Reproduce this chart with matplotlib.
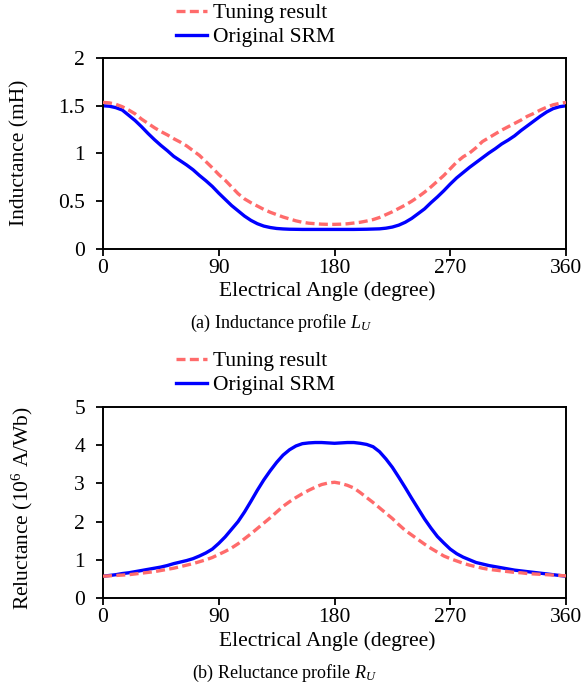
import matplotlib
matplotlib.use("Agg")
import matplotlib.pyplot as plt

plt.rcParams['font.family'] = ['Liberation Serif', 'DejaVu Serif']
plt.rcParams['mathtext.fontset'] = 'custom'
plt.rcParams['mathtext.rm'] = 'Liberation Serif'
plt.rcParams['mathtext.it'] = 'Liberation Serif:italic'

angle = list(range(0, 361, 5))

L_tuning = [1.535, 1.53, 1.515, 1.49, 1.455, 1.415, 1.36, 1.315, 1.27, 1.23,
            1.195, 1.155, 1.12, 1.08, 1.03, 0.98, 0.915, 0.85, 0.78, 0.72,
            0.65, 0.58, 0.525, 0.485, 0.45, 0.415, 0.385, 0.36, 0.335, 0.315,
            0.295, 0.28, 0.27, 0.265, 0.26, 0.258, 0.258,
            0.26, 0.264, 0.272, 0.28, 0.293, 0.308, 0.33, 0.36, 0.39, 0.425,
            0.46, 0.50, 0.545, 0.595, 0.65, 0.71, 0.77, 0.84, 0.91, 0.965,
            1.005, 1.06, 1.125, 1.165, 1.205, 1.245, 1.28, 1.315, 1.35, 1.39,
            1.42, 1.455, 1.485, 1.51, 1.525, 1.535]
L_original = [1.50, 1.495, 1.48, 1.455, 1.40, 1.345, 1.28, 1.21, 1.145, 1.085,
              1.03, 0.97, 0.925, 0.88, 0.83, 0.77, 0.715, 0.655, 0.585, 0.52,
              0.455, 0.40, 0.345, 0.30, 0.265, 0.24, 0.225, 0.215, 0.21, 0.207,
              0.206, 0.205, 0.205, 0.205, 0.205, 0.205, 0.205,
              0.205, 0.205, 0.205, 0.206, 0.207, 0.209, 0.211, 0.218, 0.23, 0.25,
              0.28, 0.32, 0.37, 0.42, 0.485, 0.545, 0.61, 0.68, 0.745, 0.80,
              0.855, 0.905, 0.955, 1.005, 1.05, 1.10, 1.14, 1.185, 1.24, 1.29,
              1.34, 1.39, 1.435, 1.47, 1.49, 1.50]

R_tuning = [0.57, 0.58, 0.59, 0.60, 0.61, 0.63, 0.65, 0.67, 0.69, 0.72,
            0.75, 0.78, 0.82, 0.86, 0.90, 0.95, 1.00, 1.06, 1.14, 1.22,
            1.31, 1.42, 1.55, 1.68, 1.82, 1.96, 2.10, 2.25, 2.40, 2.52,
            2.63, 2.73, 2.82, 2.90, 2.97, 3.01, 3.03,
            3.00, 2.95, 2.88, 2.76, 2.63, 2.50, 2.36, 2.22, 2.08, 1.92,
            1.77, 1.65, 1.53, 1.41, 1.30, 1.20, 1.10, 1.03, 0.97, 0.91,
            0.86, 0.82, 0.78, 0.75, 0.73, 0.71, 0.69, 0.67, 0.66, 0.64,
            0.63, 0.62, 0.61, 0.60, 0.59, 0.58]
R_original = [0.57, 0.59, 0.61, 0.64, 0.66, 0.69, 0.72, 0.75, 0.78, 0.81,
              0.85, 0.90, 0.94, 0.98, 1.03, 1.10, 1.18, 1.28, 1.43, 1.60,
              1.80, 2.00, 2.25, 2.53, 2.82, 3.09, 3.33, 3.55, 3.74, 3.88,
              3.98, 4.04, 4.06, 4.07, 4.07, 4.06, 4.05,
              4.06, 4.07, 4.07, 4.05, 4.02, 3.96, 3.83, 3.64, 3.42, 3.16,
              2.89, 2.61, 2.34, 2.07, 1.83, 1.61, 1.44, 1.28, 1.16, 1.07,
              1.00, 0.93, 0.89, 0.85, 0.82, 0.79, 0.76, 0.73, 0.71, 0.69,
              0.67, 0.65, 0.63, 0.61, 0.59, 0.57]

x_ticks = [0, 90, 180, 270, 360]
L_ticks = [0, 0.5, 1, 1.5, 2]
L_ticklabels = ['0', '0.5', '1', '1.5', '2']
R_ticks = [0, 1, 2, 3, 4, 5]

FS = 15.5
CAP_FS = 13
RED = '#FF6B6B'
BLUE = '#0000FF'
W, H = 585, 691

fig = plt.figure(figsize=(5.85, 6.91), dpi=100)
ax1 = fig.add_axes([103 / W, 1 - 249 / H, 463 / W, 191 / H])
ax2 = fig.add_axes([103 / W, 1 - 598 / H, 463 / W, 191 / H])

def style(ax):
    for s in ax.spines.values():
        s.set_linewidth(1.4)
    ax.tick_params(axis='both', direction='out', length=5, width=1.3, labelsize=FS)
    ax.tick_params(axis='y', pad=8)
    ax.tick_params(axis='x', pad=2)
    ax.set_xlim(0, 360)
    ax.set_xticks(x_ticks)

def legend(ax, top_px):
    h, l = ax.get_legend_handles_labels()
    ax.legend(h, l, loc='upper left', bbox_to_anchor=(176 / W, 1 - top_px / H),
              bbox_transform=fig.transFigure, frameon=False, fontsize=FS,
              handlelength=1.45, handletextpad=0.25, labelspacing=0.2,
              borderpad=0.0, borderaxespad=0.0)

# top panel
ax1.plot(angle, L_tuning, color=RED, lw=2.4, ls=(0, (2.7, 1.3)), label='Tuning result', zorder=3)
ax1.plot(angle, L_original, color=BLUE, lw=2.4, label='Original SRM', zorder=2)
style(ax1)
ax1.set_ylim(0, 2)
ax1.set_yticks(L_ticks)
ax1.set_yticklabels(L_ticklabels)
legend(ax1, 3)
fig.text(20 / W, 1 - 153 / H, 'Inductance (mH)', rotation=90, ha='center', va='center', fontsize=FS)
fig.text(327 / W, 1 - 291 / H, 'Electrical Angle (degree)', ha='center', va='center', fontsize=FS)
fig.text(281 / W, 1 - 323 / H, '(a) Inductance profile $L_U$', ha='center', va='center', fontsize=CAP_FS)

# bottom panel
ax2.plot(angle, R_tuning, color=RED, lw=2.4, ls=(0, (2.7, 1.3)), label='Tuning result', zorder=3)
ax2.plot(angle, R_original, color=BLUE, lw=2.4, label='Original SRM', zorder=2)
style(ax2)
ax2.set_ylim(0, 5)
ax2.set_yticks(R_ticks)
legend(ax2, 351)
fig.text(22 / W, 1 - 508 / H, 'Reluctance (10$^{6}$ A/Wb)', rotation=90, ha='center', va='center', fontsize=FS)
fig.text(327 / W, 1 - 641 / H, 'Electrical Angle (degree)', ha='center', va='center', fontsize=FS)
fig.text(285 / W, 1 - 673 / H, '(b) Reluctance profile $R_U$', ha='center', va='center', fontsize=CAP_FS)

fig.savefig('out.png', dpi=100)
